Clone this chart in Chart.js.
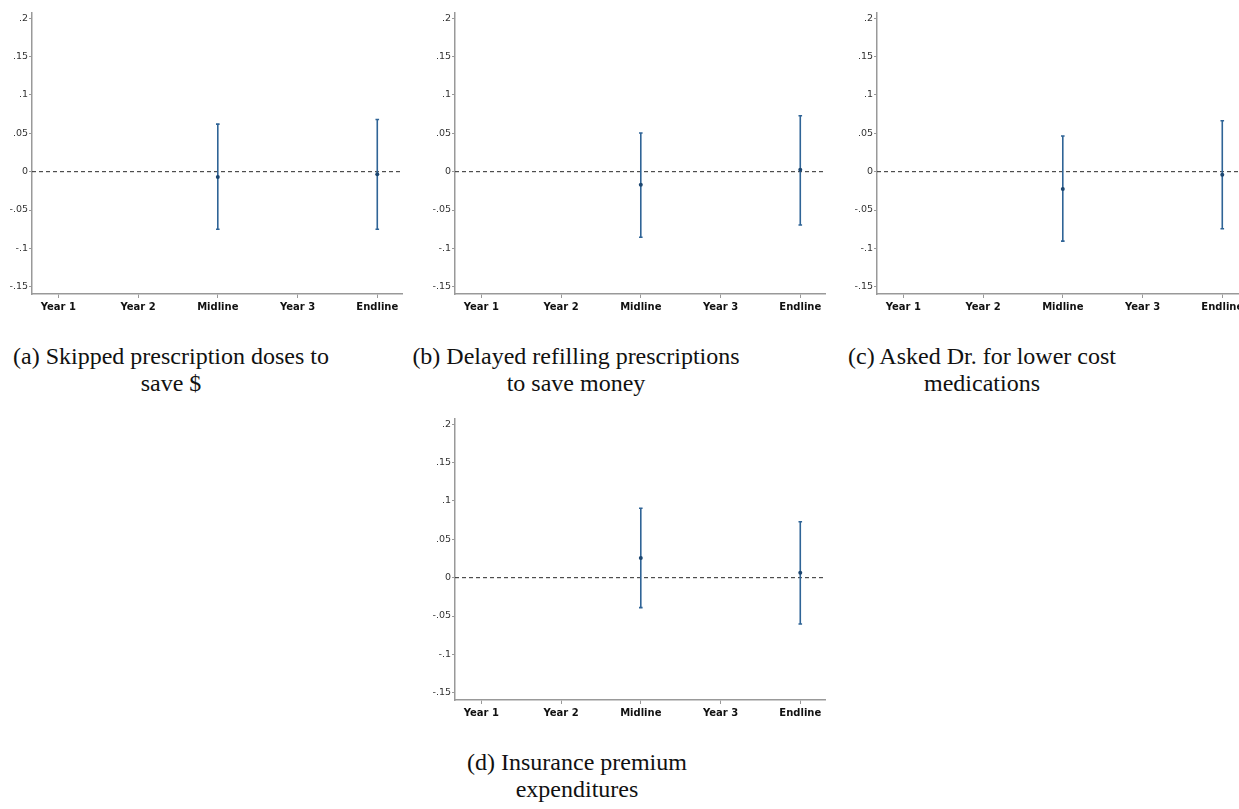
<!DOCTYPE html>
<html>
<head>
<meta charset="utf-8">
<script src="https://cdn.jsdelivr.net/npm/chart.js@4.4.1/dist/chart.umd.min.js"></script>
<style>
  html, body { margin: 0; padding: 0; background: #fff; }
  body { width: 1239px; height: 809px; overflow: hidden; position: relative; }
  .panel { position: absolute; width: 406px; height: 316px; }
  .cap {
    position: absolute; width: 406px; text-align: center;
    font-family: "Liberation Serif", "DejaVu Serif", serif;
    font-size: 24px; line-height: 27px; color: #111;
  }
</style>
</head>
<body>
<div class="panel" style="left:0px;top:0px"><canvas id="chartA" width="406" height="316"></canvas></div>
<div class="panel" style="left:423px;top:0px"><canvas id="chartB" width="406" height="316"></canvas></div>
<div class="panel" style="left:845px;top:0px"><canvas id="chartC" width="406" height="316"></canvas></div>
<div class="panel" style="left:423px;top:406px"><canvas id="chartD" width="406" height="316"></canvas></div>

<div class="cap" style="left:-32px;top:343px">(a) Skipped prescription doses to<br>save $</div>
<div class="cap" style="left:373px;top:343px">(b) Delayed refilling prescriptions<br>to save money</div>
<div class="cap" style="left:779px;top:343px">(c) Asked Dr. for lower cost<br>medications</div>
<div class="cap" style="left:374px;top:749px">(d) Insurance premium<br>expenditures</div>

<script>
// categories and tick values
const categories = ["Year 1", "Year 2", "Midline", "Year 3", "Endline"];
const yTicks = [-0.15, -0.1, -0.05, 0, 0.05, 0.1, 0.15, 0.2];

// (a) skipped prescription doses
const estA = [null, null, -0.007, null, -0.0035];
const loA  = [null, null, -0.075, null, -0.075];
const hiA  = [null, null, 0.062, null, 0.068];

// (b) delayed refilling
const estB = [null, null, -0.017, null, 0.0025];
const loB  = [null, null, -0.0855, null, -0.0695];
const hiB  = [null, null, 0.0505, null, 0.073];

// (c) asked Dr. for lower cost
const estC = [null, null, -0.0225, null, -0.004];
const loC  = [null, null, -0.0905, null, -0.0745];
const hiC  = [null, null, 0.0465, null, 0.0665];

// (d) insurance premium
const estD = [null, null, 0.0255, null, 0.0065];
const loD  = [null, null, -0.039, null, -0.0605];
const hiD  = [null, null, 0.0905, null, 0.073];

const barColor = "#2f6496";
const dotColor = "#1c4670";

// dashed zero line + error bars, drawn with the chart's scales
const ciPlugin = {
  id: "ci",
  beforeDatasetsDraw(chart, args, opts) {
    const ctx = chart.ctx;
    const xs = chart.scales.x, ys = chart.scales.y;
    const area = chart.chartArea;
    const y0 = ys.getPixelForValue(0);
    ctx.save();
    ctx.strokeStyle = "#2a2a2a";
    ctx.lineWidth = 1;
    ctx.setLineDash([4, 3]);
    ctx.beginPath();
    ctx.moveTo(area.left, y0);
    ctx.lineTo(area.right, y0);
    ctx.stroke();
    ctx.setLineDash([]);

    ctx.strokeStyle = barColor;
    ctx.lineWidth = 1.6;
    opts.lo.forEach((lo, i) => {
      const hi = opts.hi[i];
      if (lo === null || hi === null) return;
      const x = xs.getPixelForValue(i);
      const yl = ys.getPixelForValue(lo);
      const yh = ys.getPixelForValue(hi);
      ctx.beginPath();
      ctx.moveTo(x, yl); ctx.lineTo(x, yh);
      ctx.moveTo(x - 1.8, yl); ctx.lineTo(x + 1.8, yl);
      ctx.moveTo(x - 1.8, yh); ctx.lineTo(x + 1.8, yh);
      ctx.stroke();
    });
    ctx.restore();
  }
};

function fmtTick(v) {
  if (v === 0) return "0";
  return (v < 0 ? "-" : "") + String(Math.abs(v)).replace(/^0/, "");
}

function makeChart(id, est, lo, hi) {
  const points = [];
  est.forEach((v, i) => { if (v !== null) points.push({ x: i, y: v }); });

  return new Chart(document.getElementById(id), {
    type: "scatter",
    data: {
      datasets: [{
        data: points,
        pointRadius: 2,
        pointBackgroundColor: dotColor,
        pointBorderWidth: 0
      }]
    },
    plugins: [ciPlugin],
    options: {
      responsive: false,
      animation: false,
      devicePixelRatio: 1,
      layout: { padding: { top: 13, right: 3, left: 0, bottom: 0 } },
      plugins: {
        legend: { display: false },
        tooltip: { enabled: false },
        ci: { lo: lo, hi: hi }
      },
      scales: {
        x: {
          type: "linear",
          min: -0.33,
          max: 4.31,
          afterBuildTicks: (s) => { s.ticks = categories.map((c, i) => ({ value: i })); },
          afterFit: (s) => { s.height = 22; },
          ticks: {
            autoSkip: false,
            maxRotation: 0,
            padding: 3,
            color: "#111",
            font: { family: "DejaVu Sans", size: 10, weight: "bold" },
            callback: (v) => categories[v]
          },
          grid: { drawOnChartArea: false, tickLength: 4, color: "#999" },
          border: { color: "#999", width: 1.5 }
        },
        y: {
          min: -0.1595,
          max: 0.2069,
          afterBuildTicks: (s) => { s.ticks = yTicks.map((v) => ({ value: v })); },
          afterFit: (s) => { s.width = 32; },
          ticks: {
            autoSkip: false,
            padding: 1,
            color: "#333",
            font: { family: "DejaVu Sans", size: 9.5 },
            callback: (v) => fmtTick(v)
          },
          grid: { drawOnChartArea: false, tickLength: 3, color: "#999" },
          border: { color: "#999", width: 1.5 }
        }
      }
    }
  });
}

makeChart("chartA", estA, loA, hiA);
makeChart("chartB", estB, loB, hiB);
makeChart("chartC", estC, loC, hiC);
makeChart("chartD", estD, loD, hiD);
</script>
</body>
</html>
